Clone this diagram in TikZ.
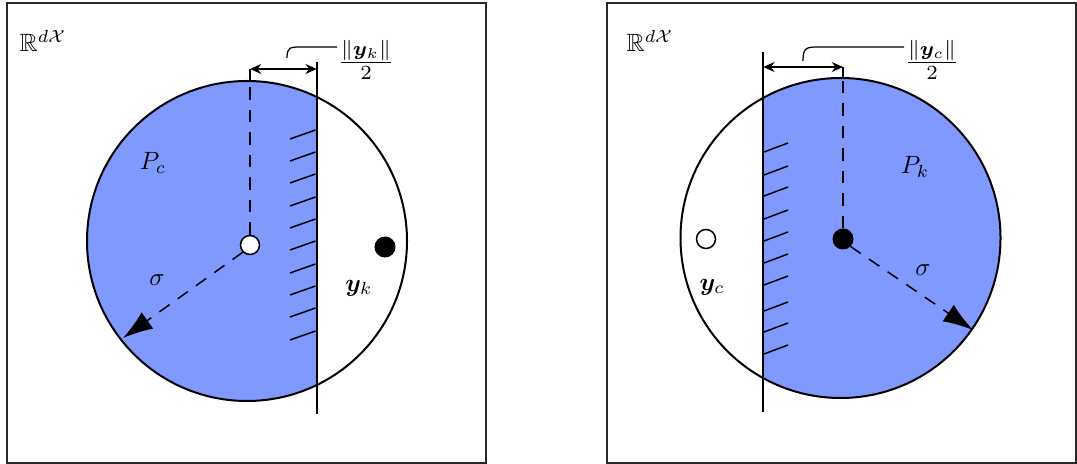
\documentclass[tikz,border=0pt]{standalone}
\usepackage{amsmath,amssymb,bm}
\usetikzlibrary{arrows.meta}
\definecolor{regionblue}{RGB}{127,153,255}
\definecolor{framegray}{RGB}{40,40,40}
\tikzset{
  panelframe/.style={draw=framegray, line width=0.7pt},
  ballline/.style={draw=black, line width=0.8pt},
  wall/.style={draw=black, line width=0.7pt},
  hatchline/.style={draw=black, line width=0.6pt},
  radiusarrow/.style={dashed, dash pattern=on 5pt off 4pt, line width=0.6pt, -{Latex[length=12pt,width=8pt]}},
  centerline/.style={dashed, dash pattern=on 5pt off 4pt, line width=0.6pt},
  dimarrow/.style={line width=0.6pt, {Stealth[length=4.5pt,width=4pt]}-{Stealth[length=4.5pt,width=4pt]}},
  leader/.style={line width=0.5pt},
  opendot/.style={circle, draw=black, fill=white, line width=0.6pt, minimum size=7.6pt, inner sep=0pt},
  fulldot/.style={circle, draw=black, fill=black, minimum size=8pt, inner sep=0pt},
  lbl/.style={inner sep=0pt},
  fraclbl/.style={inner sep=0pt, scale=1.15}
}
\begin{document}
\begin{tikzpicture}[x=0.4pt,y=-0.4pt]
\useasboundingbox (0,0) rectangle (1077,464);
% ---------- left panel ----------
\draw[panelframe] (7,3) rectangle (486,463);
\begin{scope}
  \clip (0,0) rectangle (316.7,464);
  \fill[regionblue] (247,241) circle[radius=160];
\end{scope}
\draw[ballline] (247,241) circle[radius=160];
\coordinate (wlt) at (316.7,62);
\coordinate (wlb) at (316.7,414);
\draw[wall] (wlt) -- (wlb);
\foreach \yy in {130,152,174,197,219,241,264,286,308,331}
  \draw[hatchline] (290,\yy+9) -- (315.5,\yy);
\node[opendot] (cl) at (250,245) {};
\node[fulldot] (kl) at (385,247) {};
\coordinate (topl) at (250,81);
\coordinate (tickl) at (250,69);
\coordinate (rimL) at (123,338);
\draw[centerline] (cl.north) -- (topl);
\draw[line width=0.6pt] (topl) -- (tickl);
\draw[radiusarrow] (cl.south west) -- (rimL);
\coordinate (dimLr) at (316.7,69);
\draw[dimarrow] (tickl) -- (dimLr);
\node[fraclbl] (fracL) at (366,60) {$\frac{\|\bm{y}_k\|}{2}$};
\coordinate (leadL) at (287,58);
\draw[leader] (leadL) .. controls (287,47) and (290,47) .. (302,47) -- (fracL.west |- 0,47);
\node (Pc) at (153,163) {$P_c$};
\node (sigL) at (157,280) {$\sigma$};
\node (yk) at (359,288) {$\bm{y}_k$};
\node (RL) at (43,41) {$\mathbb{R}^{d\mathcal{X}}$};
% ---------- right panel ----------
\draw[panelframe] (607,3) rectangle (1076,463);
\begin{scope}
  \clip (763.3,0) rectangle (1077,464);
  \fill[regionblue] (840.5,238) circle[radius=160];
\end{scope}
\draw[ballline] (840.5,238) circle[radius=160];
\coordinate (wrt) at (763.3,52);
\coordinate (wrb) at (763.3,412);
\draw[wall] (wrt) -- (wrb);
\foreach \yy in {143,166,187,210,232,254,276,302,323,345}
  \draw[hatchline] (764,\yy+9) -- (788,\yy);
\node[fulldot] (kr) at (843,239) {};
\node[opendot] (cr) at (706,239) {};
\coordinate (topr) at (843,78);
\coordinate (tickr) at (843,67);
\coordinate (rimR) at (973,330);
\draw[centerline] (kr.north) -- (topr);
\draw[line width=0.6pt] (topr) -- (tickr);
\draw[radiusarrow] (kr.south east) -- (rimR);
\coordinate (dimRl) at (763.3,67);
\draw[dimarrow] (dimRl) -- (tickr);
\node[fraclbl] (fracR) at (932,60) {$\frac{\|\bm{y}_c\|}{2}$};
\coordinate (leadR) at (803,61);
\draw[leader] (leadR) .. controls (803,48) and (806,47) .. (818,47) -- (fracR.west |- 0,47);
\node (Pk) at (915,167) {$P_k$};
\node (sigR) at (923,270) {$\sigma$};
\node (yc) at (712,287) {$\bm{y}_c$};
\node (RR) at (650,41) {$\mathbb{R}^{d\mathcal{X}}$};
\end{tikzpicture}
\end{document}
